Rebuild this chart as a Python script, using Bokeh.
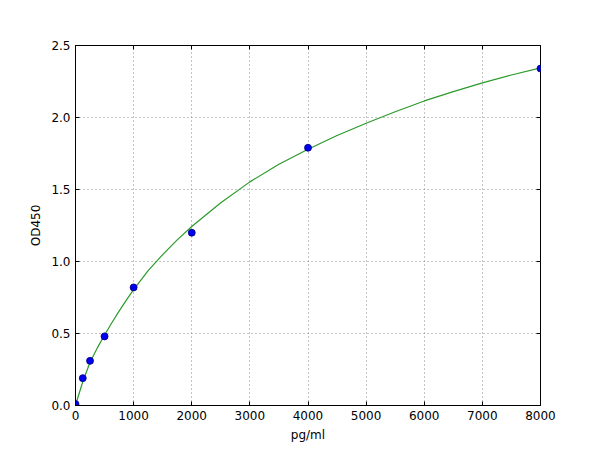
from bokeh.plotting import figure
from bokeh.models import Range1d, LinearAxis, FixedTicker, PrintfTickFormatter
from bokeh.embed import file_html
from bokeh.resources import INLINE

# measured standards
conc = [0, 125, 250, 500, 1000, 2000, 4000, 8000]
od = [0.01, 0.19, 0.31, 0.48, 0.82, 1.20, 1.79, 2.34]

# fitted curve
curve_x = [0, 25, 60, 125, 250, 375, 500, 625, 750, 875, 1000, 1250, 1500, 1750,
           2000, 2500, 3000, 3500, 4000, 4500, 5000, 5500, 6000, 6500, 7000, 7500, 8000]
curve_y = [0.0, 0.035, 0.08, 0.165, 0.30, 0.40, 0.49, 0.575, 0.655, 0.732, 0.805,
           0.937, 1.048, 1.150, 1.243, 1.408, 1.553, 1.675, 1.78, 1.875, 1.96, 2.04,
           2.115, 2.18, 2.24, 2.295, 2.345]

x_ticks = [0, 1000, 2000, 3000, 4000, 5000, 6000, 7000, 8000]
y_ticks = [0.0, 0.5, 1.0, 1.5, 2.0, 2.5]

FONT = "DejaVu Sans"

p = figure(frame_width=465, frame_height=360, output_backend="svg",
           toolbar_location=None,
           x_range=Range1d(0, 8000), y_range=Range1d(0, 2.5),
           min_border_left=75, min_border_top=45, min_border_right=60,
           min_border_bottom=45)
p.background_fill_color = "white"
p.border_fill_color = "white"
p.outline_line_color = "black"
p.outline_line_width = 1

p.line(curve_x, curve_y, line_color="#2a9a2a", line_width=1.2)
p.scatter(conc, od, size=7, fill_color="#0000ee", line_color="#000080",
          line_width=0.8)

p.xaxis.ticker = FixedTicker(ticks=x_ticks)
p.xaxis.axis_label = "pg/ml"
p.yaxis.ticker = FixedTicker(ticks=y_ticks)
p.yaxis.axis_label = "OD450"
p.yaxis.formatter = PrintfTickFormatter(format="%.1f")

for ax in list(p.xaxis) + list(p.yaxis):
    ax.major_tick_in = 4
    ax.major_tick_out = 0
    ax.minor_tick_in = 0
    ax.minor_tick_out = 0
    ax.major_label_text_font = FONT
    ax.major_label_text_font_size = "12px"
    ax.major_label_text_color = "black"
    ax.axis_label_text_font = FONT
    ax.axis_label_text_font_size = "12px"
    ax.axis_label_text_font_style = "normal"
    ax.axis_label_text_color = "black"
    ax.axis_label_standoff = 5
    ax.major_label_standoff = 5
    ax.axis_line_color = "black"
    ax.major_tick_line_color = "black"

top = LinearAxis(ticker=FixedTicker(ticks=x_ticks), major_tick_in=4, major_tick_out=0,
                 minor_tick_in=0, minor_tick_out=0,
                 major_label_overrides={t: "" for t in x_ticks},
                 axis_line_color=None)
right = LinearAxis(ticker=FixedTicker(ticks=y_ticks), major_tick_in=4, major_tick_out=0,
                   minor_tick_in=0, minor_tick_out=0,
                   major_label_overrides={t: "" for t in y_ticks},
                   axis_line_color=None)
p.add_layout(top, "above")
p.add_layout(right, "right")

p.xgrid.ticker = FixedTicker(ticks=x_ticks)
p.ygrid.ticker = FixedTicker(ticks=y_ticks)
p.grid.grid_line_color = "#888888"
p.grid.grid_line_dash = "1 3"
p.grid.grid_line_width = 1

open("out.html", "w").write(file_html(p, INLINE))
